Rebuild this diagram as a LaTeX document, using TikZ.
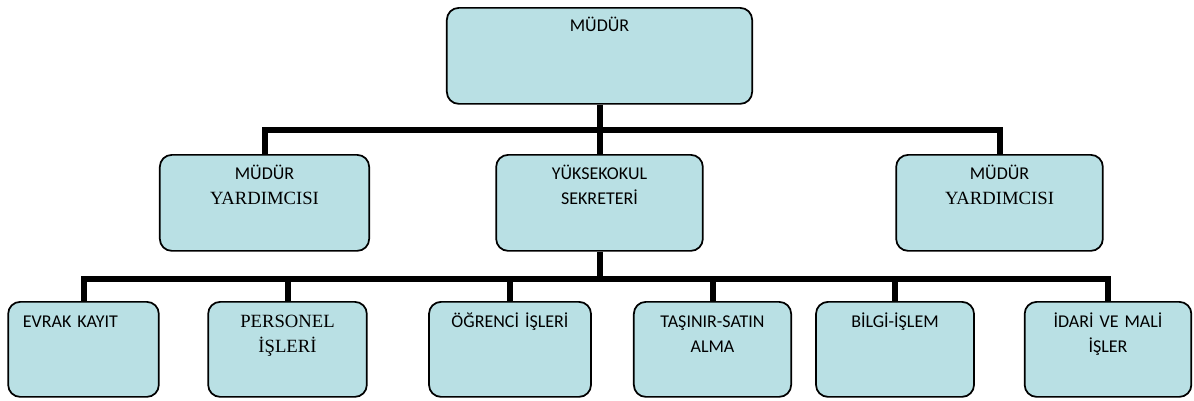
\documentclass[tikz,border=0pt]{standalone}
\usepackage{fontspec}
\setmainfont{Carlito}
\newfontfamily\timesfont{Liberation Serif}

\definecolor{boxfill}{RGB}{185,224,228}

\begin{document}
\begin{tikzpicture}[x=0.75pt,y=-0.75pt]
  \useasboundingbox (0,0) rectangle (1194,400);
  \begin{scope}[
    every node/.style={
      draw,
      line width=1.3pt,
      fill=boxfill,
      rounded corners=9pt,
      inner sep=0pt,
      anchor=north,
      text width=105pt,
      align=center,
      font=\fontsize{13.5}{18.5}\selectfont,
    },
    toprow/.style={minimum width=#1, text height=18pt, text depth=54pt},
    midrow/.style={minimum width=#1, text height=18.75pt, text depth=53.25pt},
    lowrow/.style={minimum width=#1, text height=19.5pt, text depth=51.75pt},
    ]
    \node[toprow=229pt] (mudur) at (599.5,7) {MÜDÜR};
    \node[midrow=157pt] (yrd-left)  at (264.5,154)
      {MÜDÜR\\{\timesfont\fontsize{14}{18.5}\selectfont YARDIMCISI}};
    \node[midrow=155pt] (sekreter)  at (599.5,154) {YÜKSEKOKUL\\SEKRETERİ};
    \node[midrow=155pt] (yrd-right) at (999.5,154)
      {MÜDÜR\\{\timesfont\fontsize{14}{18.5}\selectfont YARDIMCISI}};
    \node[lowrow=113pt, text width=91pt, align=left]
                               (evrak)    at (83.5,301)  {EVRAK KAYIT};
    \node[lowrow=119pt] (personel) at (287.5,301)
      {\timesfont\fontsize{14}{19.5}\selectfont PERSONEL\\İŞLERİ};
    \node[lowrow=121.5pt] (ogrenci)  at (510,301)   {ÖĞRENCİ İŞLERİ};
    \node[lowrow=118pt] (tasinir)  at (712.5,301) {TAŞINIR-SATIN\\ALMA};
    \node[lowrow=118.5pt] (bilgi)    at (895,301)   {BİLGİ-İŞLEM};
    \node[lowrow=125pt] (idari)    at (1108,301)  {İDARİ VE MALİ\\İŞLER};
  \end{scope}
  \begin{scope}[
    every path/.style={draw,line width=4.5pt},
    ]
    \path (mudur.south) -- ++(0,25) coordinate (bus-top);
    \path (yrd-left.north) |- (bus-top) -| (yrd-right.north);
    \path (bus-top) -- (sekreter.north);
    \path (sekreter.south) -- ++(0,27) coordinate (bus-low);
    \path (evrak.north) |- (bus-low) -| (idari.north);
    \foreach \unit in {personel,ogrenci,tasinir,bilgi}
      \path (\unit.north) -- (\unit.north |- bus-low);
  \end{scope}
\end{tikzpicture}
\end{document}
